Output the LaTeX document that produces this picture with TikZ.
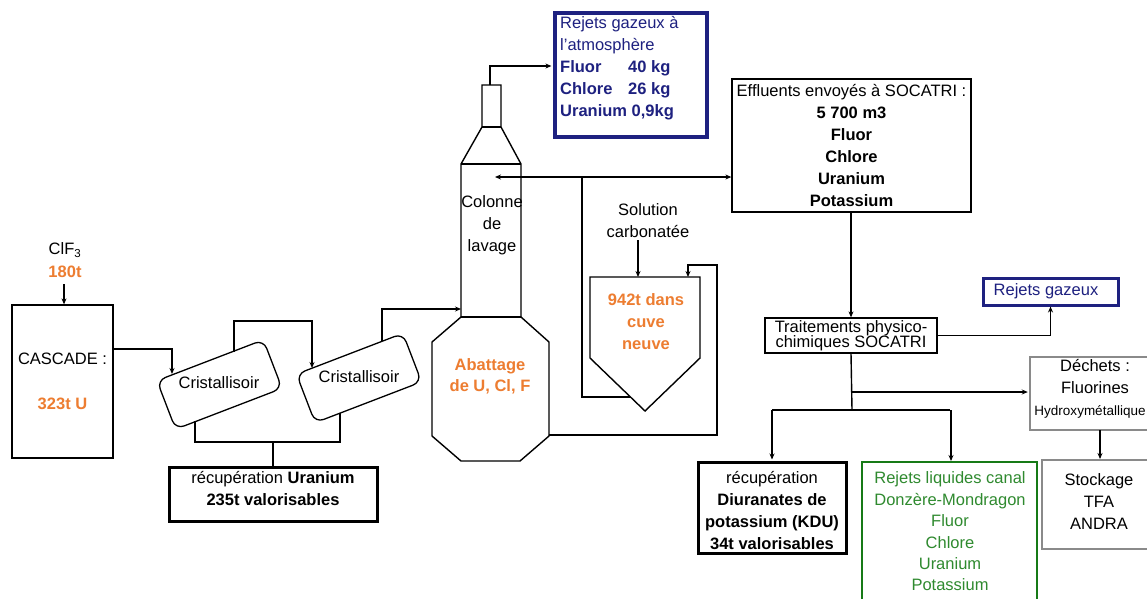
\documentclass[tikz,border=0pt]{standalone}
\usepackage{fontspec}
\setmainfont{Liberation Sans}
\usetikzlibrary{arrows.meta,calc}
\definecolor{orng}{HTML}{ED7D31}
\definecolor{navy}{HTML}{1E2180}
\definecolor{grn}{HTML}{2F8A2F}
\definecolor{grnb}{HTML}{177A17}
\definecolor{gry}{HTML}{8A8A8A}
\newcommand\myfs{\fontsize{16.5}{22}\selectfont}
\begin{document}
\begin{tikzpicture}[x=1pt,y=-1pt,
  every node/.style={font=\myfs, inner sep=0pt, align=center},
  ln/.style={line width=1.4pt},
  arr/.style={line width=1.4pt, -{Stealth[length=6pt,width=5pt]}},
  darr/.style={line width=1.4pt, {Stealth[length=6pt,width=5pt]}-{Stealth[length=6pt,width=5pt]}},
  bx/.style={draw, line width=1.3pt},
  heavybx/.style={draw, line width=3pt},
  greybx/.style={draw=gry, line width=2.5pt},
  navybx/.style={draw=navy, line width=3.2pt},
  crist/.style={draw, line width=1.3pt, fill=white, rounded corners=9pt, minimum width=114pt, minimum height=52pt, rotate=21},
  orangetxt/.style={text=orng, font=\myfs\bfseries}
]
\path[use as bounding box] (0,0) rectangle (1147,598);
\clip (0,0) rectangle (1147,598);
\fill[white] (0,0) rectangle (1147,598);

% ---- left part
\node (clf) at (65,250) {ClF\textsubscript{3}};
\node[orangetxt] (t180) at (65,272) {180t};
\node[bx, minimum width=101pt, minimum height=153pt] (cascade) at (62.5,381.5)
  {CASCADE :\\[23pt]\textcolor{orng}{\bfseries 323t U}};
\coordinate (clfarr) at (64,284);
\draw[arr] (clfarr) -- (clfarr |- cascade.north);

\node[crist] (c1) at (219.5,384.5) {};
\node (c1t) at (219,383) {Cristallisoir};
\node[crist] (c2) at (359,378) {};
\node (c2t) at (359,377) {Cristallisoir};

\node[heavybx, minimum width=208pt, minimum height=54pt] (ru) at (273,494) {};
\node (rut) at (273,489) {récupération \textbf{Uranium}\\\textbf{235t valorisables}};

\coordinate (c1in) at (172,374);
\coordinate (c1up) at (234,352);
\coordinate (c2in) at (312,368);
\coordinate (c2up) at (382,341);
\coordinate (c1dn) at (195,421);
\coordinate (c2dn) at (340,413);
\coordinate (ujoin) at (273,442);

\draw[arr] (cascade.east |- 0,349) -| (c1in);
\draw[arr] (c1up) -- (234,321) -| (c2in);
\draw[ln] (c1dn) |- (ujoin) -| (c2dn);
\draw[ln] (ujoin) -- (ru.north);

% ---- washing column
\draw[ln, line join=miter] (482,85) -- (501,85) -- (501,127) -- (521,164) -- (521,317)
  -- (549,342) -- (549,436) -- (520,461) -- (461,461) -- (432,436) -- (432,342)
  -- (461,317) -- (461,164) -- (482,127) -- cycle;
\draw[ln] (482,127) -- (501,127);
\draw[ln] (461,164) -- (521,164);
\draw[ln] (461,317) -- (521,317);
\coordinate (colin) at (461,309);
\coordinate (stacktop) at (490,85);
\coordinate (octR) at (549,435);
\node (colt) at (492,225) {Colonne\\de\\lavage};
\node[orangetxt, font=\fontsize{16.5}{21}\selectfont\bfseries] (abat) at (490,376.5) {Abattage\\de U, Cl, F};
\draw[arr] (c2up) |- (colin);

% ---- atmosphere box
\node[navybx, minimum width=152pt, minimum height=124pt] (atm) at (631,75) {};
\node[anchor=north west, align=left, text=navy] (atmt) at (560,16)
  {Rejets gazeux à\\l'atmosphère\\\textbf{\makebox[68pt][l]{Fluor}40 kg}\\\textbf{\makebox[68pt][l]{Chlore}26 kg}\\\textbf{Uranium 0,9kg}};
\draw[arr] (stacktop) |- ($(atm.west |- 0,66)+(-2,0)$);

% ---- tank
\draw[ln, line join=miter] (590,277) -- (700,277) -- (700,358) -- (645,411) -- (590,358) -- cycle;
\coordinate (cuvetop) at (638,277);
\coordinate (cuveret) at (688,277);
\coordinate (cuvecone) at (630,397);
\node[orangetxt] (cuve) at (646,322) {942t dans\\cuve\\neuve};
\node (sol) at (648,221) {Solution\\carbonatée};
\draw[arr] ($(sol.south -| cuvetop)+(0,2)$) -- (cuvetop);
\draw[arr] (octR) -- (717,435) -- (717,265) -| (cuveret);

% ---- effluents
\node[bx, minimum width=239pt, minimum height=133pt] (eff) at (851.5,145.5)
  {Effluents envoyés à SOCATRI :\\\textbf{5 700 m3}\\\textbf{Fluor}\\\textbf{Chlore}\\\textbf{Uranium}\\\textbf{Potassium}};
\coordinate (colL) at (495,177);
\draw[darr] (colL) -- (eff.west |- colL);
\draw[ln] (582,177) |- (cuvecone);

% ---- SOCATRI treatment
\node[bx, minimum width=172pt, minimum height=35pt, font=\fontsize{16.5}{15.5}\selectfont] (trt) at (851,335.5)
  {Traitements physico-\\chimiques SOCATRI};
\draw[arr] (eff.south -| trt.north) -- (trt.north);

\node[navybx, line width=3pt, minimum width=135pt, minimum height=27pt] (rg) at (1050.5,291.5) {};
\node[text=navy] (rgt) at (1046,291.5) {Rejets gazeux};
\draw[arr] (trt.east) -| (rg.south);

\node[greybx, minimum width=140pt, minimum height=73pt] (dec) at (1100,393.5) {};
\node (dect) at (1095,389) {Déchets :\\Fluorines\\\hspace*{-10pt}{\fontsize{13.5}{22}\selectfont Hydroxymétallique}};

\node[greybx, minimum width=130pt, minimum height=89pt] (stk) at (1107,504.5) {};
\node (stkt) at (1099,502) {Stockage\\TFA\\ANDRA};
\draw[arr] (1100,430) -- (1100,459);

\node[heavybx, minimum width=148pt, minimum height=91pt] (kdu) at (772,507.5) {};
\node[font=\fontsize{16.5}{21.7}\selectfont] (kdut) at (772,510.5)
  {récupération\\\textbf{Diuranates de}\\\textbf{potassium (KDU)}\\\textbf{34t valorisables}};

\node[draw=grnb, line width=2.5pt, minimum width=175pt, minimum height=160pt] (gr) at (949.5,542) {};
\node[text=grn, font=\fontsize{16.5}{21.4}\selectfont] (grt) at (950,531.5)
  {Rejets liquides canal\\Donzère-Mondragon\\Fluor\\Chlore\\Uranium\\Potassium};

\coordinate (split) at (852,410);
\coordinate (decbr) at (852,392);
\draw[ln] (trt.south) -- (split);
\draw[arr] (decbr) -- ($(dec.west |- decbr)+(-1,0)$);
\draw[ln] (kdu.north |- split) -- (gr.north |- split);
\draw[arr] (kdu.north |- split) -- ($(kdu.north)+(0,-1)$);
\draw[arr] (951,410) -- (951,461);
\end{tikzpicture}
\end{document}
